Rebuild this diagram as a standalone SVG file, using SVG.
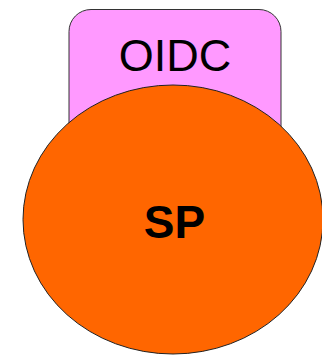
<svg xmlns="http://www.w3.org/2000/svg" width="322" height="355" viewBox="0 0 322 355">
<style>
.lbl{font-family:"Liberation Sans",Arial,sans-serif;fill:#000;text-anchor:middle}
</style>
<rect width="322" height="355" fill="#fff"/>
<g id="oidc">
<rect x="69" y="9.5" width="212" height="200" rx="22" ry="22" fill="#ff99ff" stroke="#333" stroke-width="1"/>
<text class="lbl" x="175" y="70.5" font-size="45">OIDC</text>
</g>
<g id="sp">
<ellipse cx="173" cy="219.5" rx="150" ry="134.5" fill="#ff6600" stroke="#222" stroke-width="1"/>
<text class="lbl" x="174.5" y="238.3" font-size="46" font-weight="bold">SP</text>
</g>
<g id="connectors"></g>
</svg>
